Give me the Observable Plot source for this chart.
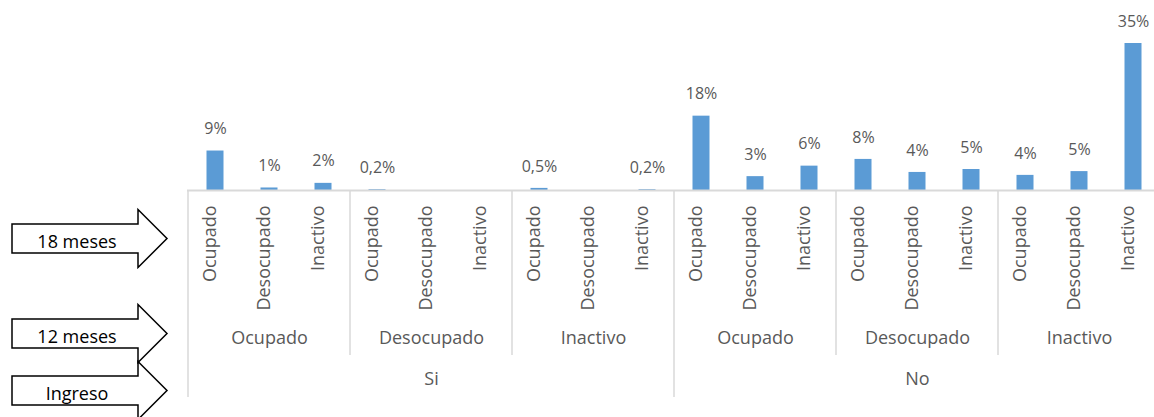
<!DOCTYPE html>
<html>
<head>
<meta charset="utf-8">
<script src="https://cdn.jsdelivr.net/npm/d3@7"></script>
<script src="https://cdn.jsdelivr.net/npm/@observablehq/plot@0.6"></script>
<style>
  html, body { margin: 0; padding: 0; background: #fff; }
  #wrap { position: relative; width: 1154px; height: 417px; overflow: hidden; background: #fff; }
  #chart { position: absolute; left: 0; top: 0; }
  #arrows { position: absolute; left: 0; top: 0; }
</style>
</head>
<body>
<div id="wrap">
  <div id="chart"></div>
  <svg id="arrows" width="185" height="417"></svg>
</div>
<script>
// ---- data ----
const ingreso = ["Si", "No"];                              // level 3 (bottom)
const meses12 = ["Ocupado", "Desocupado", "Inactivo"];     // level 2
const meses18 = ["Ocupado", "Desocupado", "Inactivo"];     // level 1 (rotated)
const values = [9.4, 0.6, 1.7,  0.2, 0, 0,  0.5, 0, 0.2,
                17.7, 3.3, 5.8,  7.4, 4.3, 5.0,  3.6, 4.5, 35.0];
const labels = ["9%", "1%", "2%",  "0,2%", "", "",  "0,5%", "", "0,2%",
                "18%", "3%", "6%",  "8%", "4%", "5%",  "4%", "5%", "35%"];
const arrowLabels = ["18 meses", "12 meses", "Ingreso"];

// ---- table ----
const rows = [];
let i = 0;
for (const a of ingreso) for (const b of meses12) for (const c of meses18) {
  rows.push({key: `${a}|${b}|${c}`, a, b, c, value: values[i], label: labels[i]});
  i++;
}
const keys = rows.map(d => d.key);
const groups2 = rows.filter(d => d.c === meses18[1]);
const groups1 = rows.filter(d => d.b === meses12[1] && d.c === meses18[1]);

const grey = "#595959";
const lineGrey = "#d9d9d9";

function separators(index, scales) {
  const g = d3.create("svg:g").attr("stroke", lineGrey).attr("stroke-width", 1.5);
  const x = scales.x;
  const bw = x.bandwidth ? x.bandwidth() : (x(keys[1]) - x(keys[0]));
  const y0 = scales.y(0);
  const edges = rows.filter(d => d.c === meses18[0]).map(d => ({pos: x(d.key), long: d.b === meses12[0]}));
  edges.push({pos: x(keys[keys.length - 1]) + bw, long: true});
  for (const e of edges) {
    g.append("line")
      .attr("x1", e.pos).attr("x2", e.pos)
      .attr("y1", y0).attr("y2", y0 + (e.long ? 207 : 165));
  }
  return g.node();
}

const chart = Plot.plot({
  width: 1154,
  height: 417,
  marginLeft: 187,
  marginRight: -6,
  marginTop: 43,
  marginBottom: 227,
  x: {domain: keys, padding: 0, axis: null},
  y: {domain: [0, 35], axis: null},
  style: {fontFamily: "'Open Sans', sans-serif", background: "white", color: grey},
  marks: [
    Plot.barY(rows, {x: "key", y: "value", fill: "#5b9bd5", insetLeft: 18.5, insetRight: 18.5}),
    Plot.ruleY([0], {stroke: lineGrey, strokeWidth: 2}),
    separators,
    Plot.text(rows.filter(d => d.label), {x: "key", y: "value", text: "label", dy: -22, fontSize: 16, fill: grey}),
    Plot.text(rows, {x: "key", text: "c", frameAnchor: "bottom", rotate: -90, textAnchor: "end", dy: 15, fontSize: 18, fill: grey}),
    Plot.text(groups2, {x: "key", text: "b", frameAnchor: "bottom", dy: 153, fontSize: 18, fill: grey}),
    Plot.text(groups1, {x: "key", text: "a", frameAnchor: "bottom", dy: 194, fontSize: 18, fill: grey})
  ]
});
document.getElementById("chart").appendChild(chart);

// ---- block arrows on the left ----
const centers = [238.5, 333.5, 390.5];
const svg = d3.select("#arrows");
arrowLabels.forEach((t, k) => {
  const c = centers[k];
  const pts = [[12, c - 14.5], [138, c - 14.5], [138, c - 29], [167, c], [138, c + 29], [138, c + 14.5], [12, c + 14.5]];
  svg.append("polygon")
    .attr("points", pts.map(p => p.join(",")).join(" "))
    .attr("fill", "white").attr("stroke", "black").attr("stroke-width", 1.5)
    .attr("stroke-linejoin", "miter");
  svg.append("text")
    .attr("x", 77).attr("y", c + 9)
    .attr("text-anchor", "middle")
    .attr("font-family", "'Open Sans', sans-serif")
    .attr("font-size", 18)
    .attr("fill", "black")
    .text(t);
});
</script>
</body>
</html>
